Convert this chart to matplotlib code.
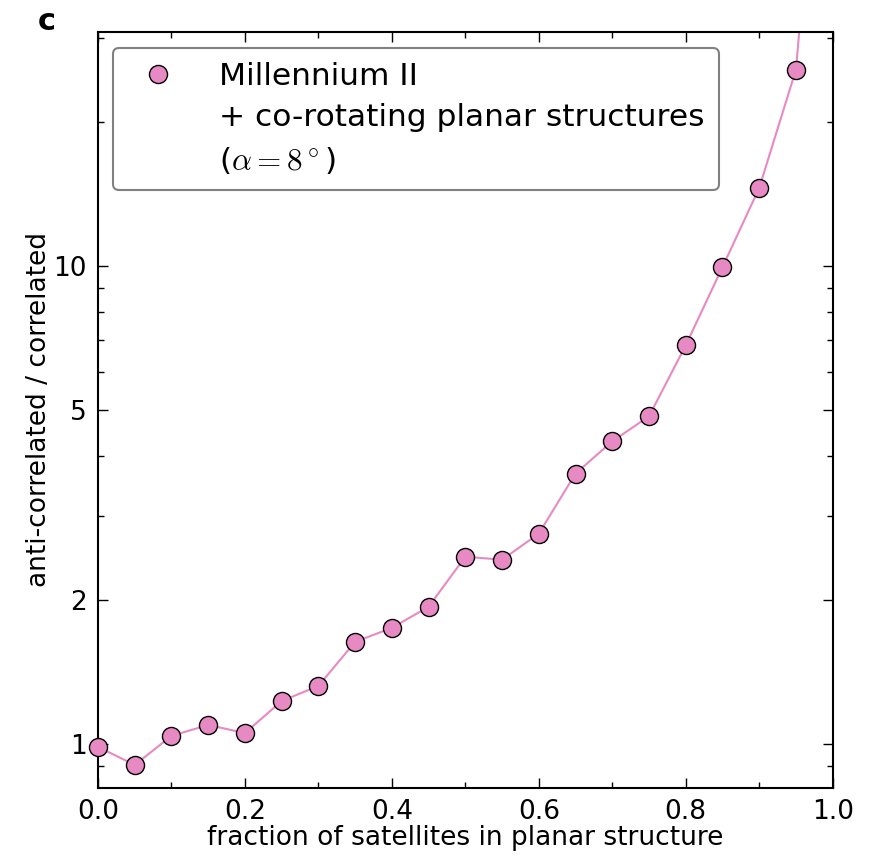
import matplotlib
matplotlib.use("Agg")
import matplotlib.pyplot as plt
from matplotlib.lines import Line2D
from matplotlib.ticker import FixedLocator, LogLocator, NullFormatter, FixedFormatter, MultipleLocator

plt.rcParams['mathtext.fontset'] = 'cm'

fraction = [0.0, 0.05, 0.10, 0.15, 0.20, 0.25, 0.30, 0.35, 0.40, 0.45, 0.50,
            0.55, 0.60, 0.65, 0.70, 0.75, 0.80, 0.85, 0.90, 0.95, 1.0]
ratio = [0.986, 0.904, 1.04, 1.096, 1.054, 1.23, 1.323, 1.636, 1.75, 1.937, 2.466,
         2.43, 2.756, 3.68, 4.30, 4.85, 6.83, 9.95, 14.57, 25.76, 200.0]
y_ticks = [1, 2, 5, 10]
y_ticklabels = ["1", "2", "5", "10"]
x_ticks = [0.0, 0.2, 0.4, 0.6, 0.8, 1.0]
x_ticklabels = ["0.0", "0.2", "0.4", "0.6", "0.8", "1.0"]

color = "#e78ac3"

fig = plt.figure(figsize=(8.83, 8.58), dpi=100)
ax = fig.add_axes([0.111, 0.0816, 0.832, 0.8811])

ax.plot(fraction, ratio, color=color, lw=1.5, zorder=2)
ax.plot(fraction, ratio, 'o', color=color, markersize=13, markeredgecolor='black',
        markeredgewidth=1.0, zorder=3, clip_on=False)

ax.set_yscale('log')
ax.set_xlim(0, 1)
ax.set_ylim(0.809, 30.9)

ax.yaxis.set_major_locator(FixedLocator(y_ticks))
ax.yaxis.set_major_formatter(FixedFormatter(y_ticklabels))
ax.yaxis.set_minor_locator(LogLocator(base=10, subs=range(1, 10)))
ax.yaxis.set_minor_formatter(NullFormatter())
ax.xaxis.set_major_locator(FixedLocator(x_ticks))
ax.xaxis.set_major_formatter(FixedFormatter(x_ticklabels))
ax.xaxis.set_minor_locator(MultipleLocator(0.1))

ax.tick_params(which='both', direction='in', top=True, right=True, labelsize=19, width=1.0)
ax.tick_params(which='major', length=7, pad=8)
ax.tick_params(which='minor', length=4)
for s in ax.spines.values():
    s.set_linewidth(1.5)

ax.set_xlabel("fraction of satellites in planar structure", fontsize=19, labelpad=0)
ax.set_ylabel("anti-correlated / correlated", fontsize=19, labelpad=1)

h1 = Line2D([], [], linestyle='none', marker='o', markersize=13, markerfacecolor=color,
            markeredgecolor='black', markeredgewidth=1.0)
h2 = Line2D([], [], linestyle='none')
leg = ax.legend([h1, h2, h2],
                ["Millennium II", "+ co-rotating planar structures", r"($\alpha=8^\circ$)"],
                loc='upper left', bbox_to_anchor=(0.0204, 0.979), borderaxespad=0,
                fontsize=22.5, labelspacing=0.4, handletextpad=0.95, borderpad=0.45,
                fancybox=True, framealpha=1.0, edgecolor='gray', numpoints=1)
leg.get_frame().set_linewidth(1.5)

fig.text(0.053, 0.975, "c", fontsize=22, fontweight='bold', ha='center', va='center')

fig.savefig("out.png", dpi=100)
